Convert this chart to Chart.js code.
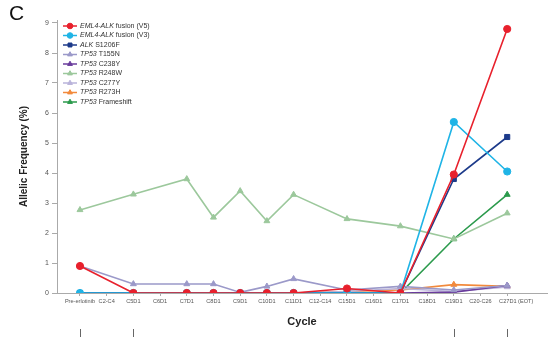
<!DOCTYPE html>
<html><head><meta charset="utf-8">
<script src="https://cdn.jsdelivr.net/npm/chart.js@4"></script>
<style>html,body{margin:0;padding:0;background:#fff}#wrap{position:relative;width:554px;height:337px}</style>
</head><body><div id="wrap"><canvas id="c" width="554" height="337"></canvas></div>
<script>
const categories = ['Pre-erlotinib','C2-C4','C5D1','C6D1','C7D1','C8D1','C9D1','C10D1','C11D1','C12-C14','C15D1','C16D1','C17D1','C18D1','C19D1','C20-C26','C27D1 (EOT)'];
const seriesItalic = ['EML4-ALK','EML4-ALK','ALK','TP53','TP53','TP53','TP53','TP53','TP53'];
const seriesRest = [' fusion (V5)',' fusion (V3)',' S1206F',' T155N',' C238Y',' R248W',' C277Y',' R273H',' Frameshift'];
const yTicks = [0,1,2,3,4,5,6,7,8,9];
const bracketCategories = ['Pre-erlotinib','C5D1','C19D1','C27D1 (EOT)'];

const emlV5      = [0.9, null, 0, null, 0, 0, 0, 0, 0, null, 0.15, null, 0, null, 3.95, null, 8.8];
const emlV3      = [0, null, 0, null, 0, 0, 0, 0, 0, null, 0, null, 0, null, 5.7, null, 4.05];
const alkS1206F  = [0, null, 0, null, 0, 0, 0, 0, 0, null, 0, null, 0, null, 3.8, null, 5.2];
const tp53T155N  = [0.9, null, 0.3, null, 0.3, 0.3, 0.02, 0.22, 0.47, null, 0.1, null, 0.22, null, 0.1, null, 0.25];
const tp53C238Y  = [0, null, 0, null, 0, 0, 0, 0, 0, null, 0, null, 0, null, 0.03, null, 0.25];
const tp53R248W  = [2.77, null, 3.29, null, 3.8, 2.52, 3.4, 2.4, 3.28, null, 2.47, null, 2.23, null, 1.8, null, 2.66];
const tp53C277Y  = [0, null, 0, null, 0, 0, 0, 0, 0, null, 0.05, null, 0.15, null, 0.05, null, 0.2];
const tp53R273H  = [0, null, 0, null, 0, 0, 0, 0, 0, null, 0.05, null, 0.1, null, 0.28, null, 0.22];
const tp53Frame  = [0, null, 0, null, 0, 0, 0, 0, 0, null, 0, null, 0, null, 1.8, null, 3.28];

const allSeries = [emlV5, emlV3, alkS1206F, tp53T155N, tp53C238Y, tp53R248W, tp53C277Y, tp53R273H, tp53Frame];
const colors = ['#e8202c','#1fb4e6','#1c3a8a','#9b99c9','#6a3c9c','#9cc89c','#b9b3da','#f28a3c','#2b9a4c'];
const styles = ['circle','circle','rect','triangle','triangle','triangle','triangle','triangle','triangle'];
const radii = [3.6,3.6,3.6,3.4,3.4,3.4,3.4,3.4,3.4];

const FONT = '"Liberation Sans", Arial, sans-serif';

const datasets = allSeries.map((arr, i) => ({
  label: seriesItalic[i] + seriesRest[i],
  data: arr.map((v, k) => ({x: k, y: v})).filter(p => p.y !== null),
  borderColor: colors[i],
  backgroundColor: colors[i],
  pointBackgroundColor: colors[i],
  pointBorderColor: colors[i],
  pointStyle: styles[i],
  pointRadius: radii[i],
  pointBorderWidth: 1,
  borderWidth: 1.6,
  tension: 0
}));

function drawMarker(ctx, style, r, x, y, color) {
  ctx.save();
  ctx.fillStyle = color; ctx.strokeStyle = color; ctx.lineWidth = 1;
  ctx.beginPath();
  if (style === 'circle') ctx.arc(x, y, r, 0, Math.PI * 2);
  else if (style === 'rect') { const s = r / Math.SQRT2; ctx.rect(x - s, y - s, 2 * s, 2 * s); }
  else { ctx.moveTo(x, y - r); ctx.lineTo(x + r * 0.87, y + r * 0.5); ctx.lineTo(x - r * 0.87, y + r * 0.5); ctx.closePath(); }
  ctx.fill(); ctx.stroke();
  ctx.restore();
}

const extras = {
  id: 'extras',
  beforeDraw(chart) {
    // the last tick label sits slightly right of its tick in the reference
    const items = chart.scales.x.getLabelItems();
    const last = items.find(it => it.label === categories[categories.length - 1]);
    if (last && !last._shifted) { last.options.translation[0] += 9; last._shifted = true; }
  },
  afterDraw(chart) {
    const ctx = chart.ctx;
    const area = chart.chartArea;
    ctx.save();
    ctx.fillStyle = '#111';
    ctx.font = '21px ' + FONT;
    ctx.textBaseline = 'alphabetic';
    ctx.fillText('C', 9, 20);
    chart.data.datasets.forEach((ds, i) => {
      const y = area.top + 6 + i * 9.5;
      const x0 = area.left + 6;
      ctx.strokeStyle = colors[i]; ctx.lineWidth = 1.5;
      ctx.beginPath(); ctx.moveTo(x0, y); ctx.lineTo(x0 + 14, y); ctx.stroke();
      drawMarker(ctx, styles[i], 2.8, x0 + 7, y, colors[i]);
      ctx.fillStyle = '#333';
      ctx.textBaseline = 'middle';
      ctx.font = 'italic 7px ' + FONT;
      const tx = x0 + 17;
      ctx.fillText(seriesItalic[i], tx, y);
      const w = ctx.measureText(seriesItalic[i]).width;
      ctx.font = '7px ' + FONT;
      ctx.fillText(seriesRest[i], tx + w, y);
    });
    const xs = chart.scales.x;
    ctx.strokeStyle = '#666'; ctx.lineWidth = 1;
    bracketCategories.forEach(c => {
      const px = Math.round(xs.getPixelForValue(categories.indexOf(c))) + 0.5;
      ctx.beginPath(); ctx.moveTo(px, 329); ctx.lineTo(px, 337); ctx.stroke();
    });
    ctx.restore();
  }
};

new Chart(document.getElementById('c'), {
  type: 'line',
  data: { datasets },
  plugins: [extras],
  options: {
    responsive: false,
    animation: false,
    spanGaps: true,
    layout: { padding: { left: 0, right: 7, top: 20, bottom: 0 } },
    plugins: { legend: { display: false }, tooltip: { enabled: false } },
    scales: {
      x: {
        type: 'linear', min: -0.86, max: 17.49,
        afterBuildTicks: s => { s.ticks = categories.map((_, i) => ({ value: i })); },
        afterFit: s => { s.height = 44; },
        ticks: { callback: v => categories[v], autoSkip: false, maxRotation: 0, minRotation: 0, font: { size: 5.6, family: FONT }, color: '#555', padding: 2 },
        grid: { drawOnChartArea: false, drawTicks: true, tickLength: 3, color: '#aaa' },
        border: { color: '#aaa', width: 1 },
        title: { display: true, text: 'Cycle', font: { size: 11, weight: 'bold', family: FONT }, color: '#222', padding: { top: 0, bottom: 8 } }
      },
      y: {
        min: 0, max: 9.1,
        afterBuildTicks: s => { s.ticks = yTicks.map(v => ({ value: v })); },
        afterFit: s => { s.width = 57; },
        ticks: { font: { size: 7, family: FONT }, color: '#555', padding: 3 },
        grid: { drawOnChartArea: false, drawTicks: true, tickLength: 5, color: '#aaa' },
        border: { color: '#aaa', width: 1 },
        title: { display: true, text: 'Allelic Frequency (%)', font: { size: 10, weight: 'bold', family: FONT }, color: '#222', padding: { top: 18, bottom: 0 } }
      }
    }
  }
});
</script>
</body></html>
